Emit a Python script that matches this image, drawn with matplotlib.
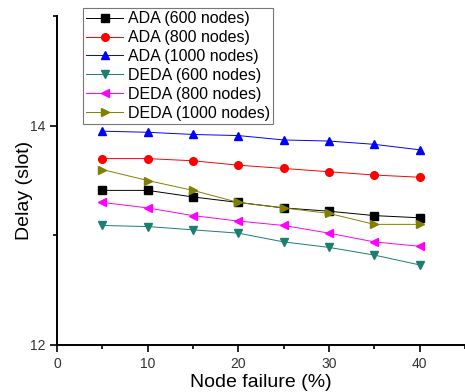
import matplotlib
matplotlib.use("Agg")
import matplotlib.pyplot as plt
from matplotlib.ticker import MultipleLocator

plt.rcParams['font.family'] = ['Liberation Sans', 'DejaVu Sans']

# node failure (%)
failure = [5, 10, 15, 20, 25, 30, 35, 40]

# delay (slot)
ada_600 = [13.41, 13.41, 13.35, 13.30, 13.25, 13.22, 13.18, 13.16]
ada_800 = [13.70, 13.70, 13.68, 13.64, 13.61, 13.58, 13.55, 13.53]
ada_1000 = [13.95, 13.94, 13.92, 13.91, 13.87, 13.86, 13.83, 13.78]
deda_600 = [13.09, 13.08, 13.05, 13.02, 12.94, 12.89, 12.82, 12.73]
deda_800 = [13.30, 13.25, 13.18, 13.13, 13.09, 13.02, 12.94, 12.90]
deda_1000 = [13.60, 13.50, 13.41, 13.30, 13.25, 13.20, 13.10, 13.10]

series = [
    ("ADA (600 nodes)", ada_600, "black", "s"),
    ("ADA (800 nodes)", ada_800, "red", "o"),
    ("ADA (1000 nodes)", ada_1000, "blue", "^"),
    ("DEDA (600 nodes)", deda_600, "#1a7f70", "v"),
    ("DEDA (800 nodes)", deda_800, "magenta", "<"),
    ("DEDA (1000 nodes)", deda_1000, "#808000", ">"),
]

fig = plt.figure(figsize=(4.65, 3.92), dpi=100)
ax = fig.add_axes([0.1226, 0.12, 0.8774, 0.839])

for label, vals, color, mk in series:
    ax.plot(failure, vals, color=color, marker=mk, markersize=5.5,
            linewidth=0.7, label=label)

ax.set_xlim(0, 45)
ax.set_ylim(12, 15)
ax.xaxis.set_major_locator(MultipleLocator(10))
ax.xaxis.set_minor_locator(MultipleLocator(5))
ax.yaxis.set_major_locator(MultipleLocator(2))
ax.yaxis.set_minor_locator(MultipleLocator(1))
ax.tick_params(which='both', direction='out', width=1.2, labelsize=10,
               labelcolor='#333333')
ax.tick_params(which='major', length=5)
ax.tick_params(which='minor', length=3)

ax.spines['top'].set_visible(False)
ax.spines['right'].set_visible(False)
ax.spines['left'].set_linewidth(1.4)
ax.spines['bottom'].set_linewidth(1.4)

ax.set_xlabel("Node failure (%)", fontsize=14, labelpad=2)
ax.set_ylabel("Delay (slot)", fontsize=14)
ax.yaxis.set_label_coords(-0.06, 0.47)

leg = ax.legend(loc='upper left', bbox_to_anchor=(0.064, 1.024), fontsize=11.5,
                frameon=True, fancybox=False, handlelength=2.3,
                borderpad=0.2, labelspacing=0.24, handletextpad=0.3,
                borderaxespad=0)
leg.get_frame().set_edgecolor('#555555')
leg.get_frame().set_linewidth(0.8)

fig.savefig("out.png", dpi=100)
